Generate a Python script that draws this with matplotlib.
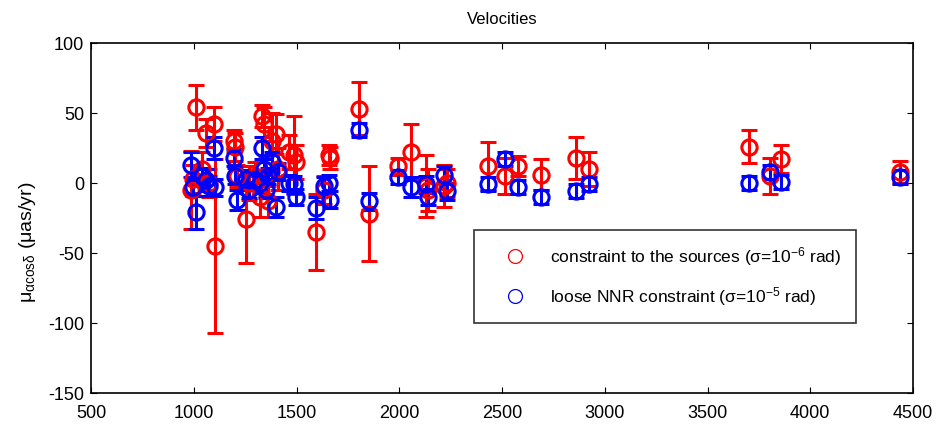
import numpy as np
import matplotlib
matplotlib.use('Agg')
import matplotlib.pyplot as plt
from matplotlib.lines import Line2D

plt.rcParams['font.family'] = ['Liberation Sans', 'DejaVu Sans']
plt.rcParams['mathtext.fontset'] = 'custom'
plt.rcParams['mathtext.rm'] = 'Liberation Sans'
plt.rcParams['mathtext.it'] = 'Liberation Sans'
plt.rcParams['axes.unicode_minus'] = False

# source positions (shared by both solutions)
x = [985, 995, 1010, 1040, 1060, 1075, 1099, 1104, 1197, 1200,
     1211, 1255, 1270, 1300, 1320, 1333, 1340, 1350, 1360, 1380,
     1401, 1410, 1465, 1489, 1499, 1596, 1635, 1660, 1665, 1806,
     1854, 1996, 2059, 2132, 2140, 2220, 2230, 2434, 2517, 2580,
     2688, 2858, 2921, 3701, 3803, 3857, 4437]

# constraint to the sources
red_y = [-5, 3, 54, 10, 36, 0, 42, -45, 30, 26,
         5, -26, 0, 5, -10, 48, 42, 5, -13, 30,
         35, 10, 22, 20, 15, -35, -5, 20, 18, 53,
         -22, 12, 22, -2, -5, -2, 0, 12, 5, 12,
         6, 18, 10, 26, 5, 17, 8]
red_err = [28, 10, 16, 12, 10, 10, 12, 62, 8, 10,
           8, 31, 12, 10, 14, 8, 12, 14, 11, 20,
           14, 15, 12, 28, 12, 27, 10, 7, 8, 19,
           34, 6, 20, 22, 15, 15, 10, 17, 13, 7,
           11, 15, 12, 12, 13, 10, 8]

# loose NNR constraint
blue_y = [13, -3, -21, 5, 2, -2, 25, -3, 18, 5,
          -12, 3, -5, 2, 0, 25, 10, -5, 5, 15,
          -17, 8, 0, -1, -10, -18, -2, 0, -12, 38,
          -13, 4, -3, -1, -10, 6, -6, -1, 17, -3,
          -10, -6, -1, 0, 8, 1, 4]
blue_err = [9, 6, 12, 6, 8, 7, 8, 6, 6, 6,
            7, 6, 6, 6, 7, 8, 7, 6, 6, 7,
            7, 6, 6, 6, 6, 8, 6, 6, 6, 5,
            6, 5, 7, 6, 6, 6, 6, 5, 5, 5,
            5, 5, 5, 5, 5, 5, 5]

fig = plt.figure(figsize=(9.37, 4.26), dpi=100)
ax = fig.add_axes([91/937, 1-393/426, 822/937, 350/426])

ax.errorbar(x, red_y, yerr=red_err, fmt='o', color='red', mfc='none',
            ms=11, mew=2.2, elinewidth=2.2, capsize=5.5, capthick=2.2)
ax.errorbar(x, blue_y, yerr=blue_err, fmt='o', color='blue', mfc='none',
            ms=11, mew=2.2, elinewidth=2.2, capsize=5.5, capthick=2.2)

ax.set_xlim(500, 4500)
ax.set_ylim(-150, 100)
ax.set_xticks(np.arange(500, 4501, 500))
ax.set_yticks(np.arange(-150, 101, 50))
ax.tick_params(direction='in', length=4, labelsize=13, top=True, right=True)
ax.tick_params(axis='x', pad=9)
ax.tick_params(axis='y', pad=5)
for s in ax.spines.values():
    s.set_linewidth(1.2)

ax.set_title('Velocities', fontsize=12, pad=14)
ax.set_ylabel(r'$\mathrm{\mu}_{\alpha\mathrm{cos}\delta}$ (μas/yr)', fontsize=14)
ax.yaxis.set_label_coords(-0.064, 0.43)

handles = [Line2D([], [], ls='none', marker='o', mfc='none', mec='red', ms=10, mew=0.9),
           Line2D([], [], ls='none', marker='o', mfc='none', mec='blue', ms=10, mew=0.9)]
labels = [r'constraint to the sources ($\sigma$=10$^{-6}$ rad)',
          r'loose NNR constraint ($\sigma$=10$^{-5}$ rad)']
leg = ax.legend(handles, labels, loc='lower left', bbox_to_anchor=(0.466, 0.2),
                fontsize=12.5, frameon=True, fancybox=False, edgecolor='black',
                handlelength=3.0, handletextpad=0.5, borderpad=0.86,
                labelspacing=1.0, borderaxespad=0)
leg.get_frame().set_linewidth(1.2)

fig.savefig('out.png', dpi=100)
